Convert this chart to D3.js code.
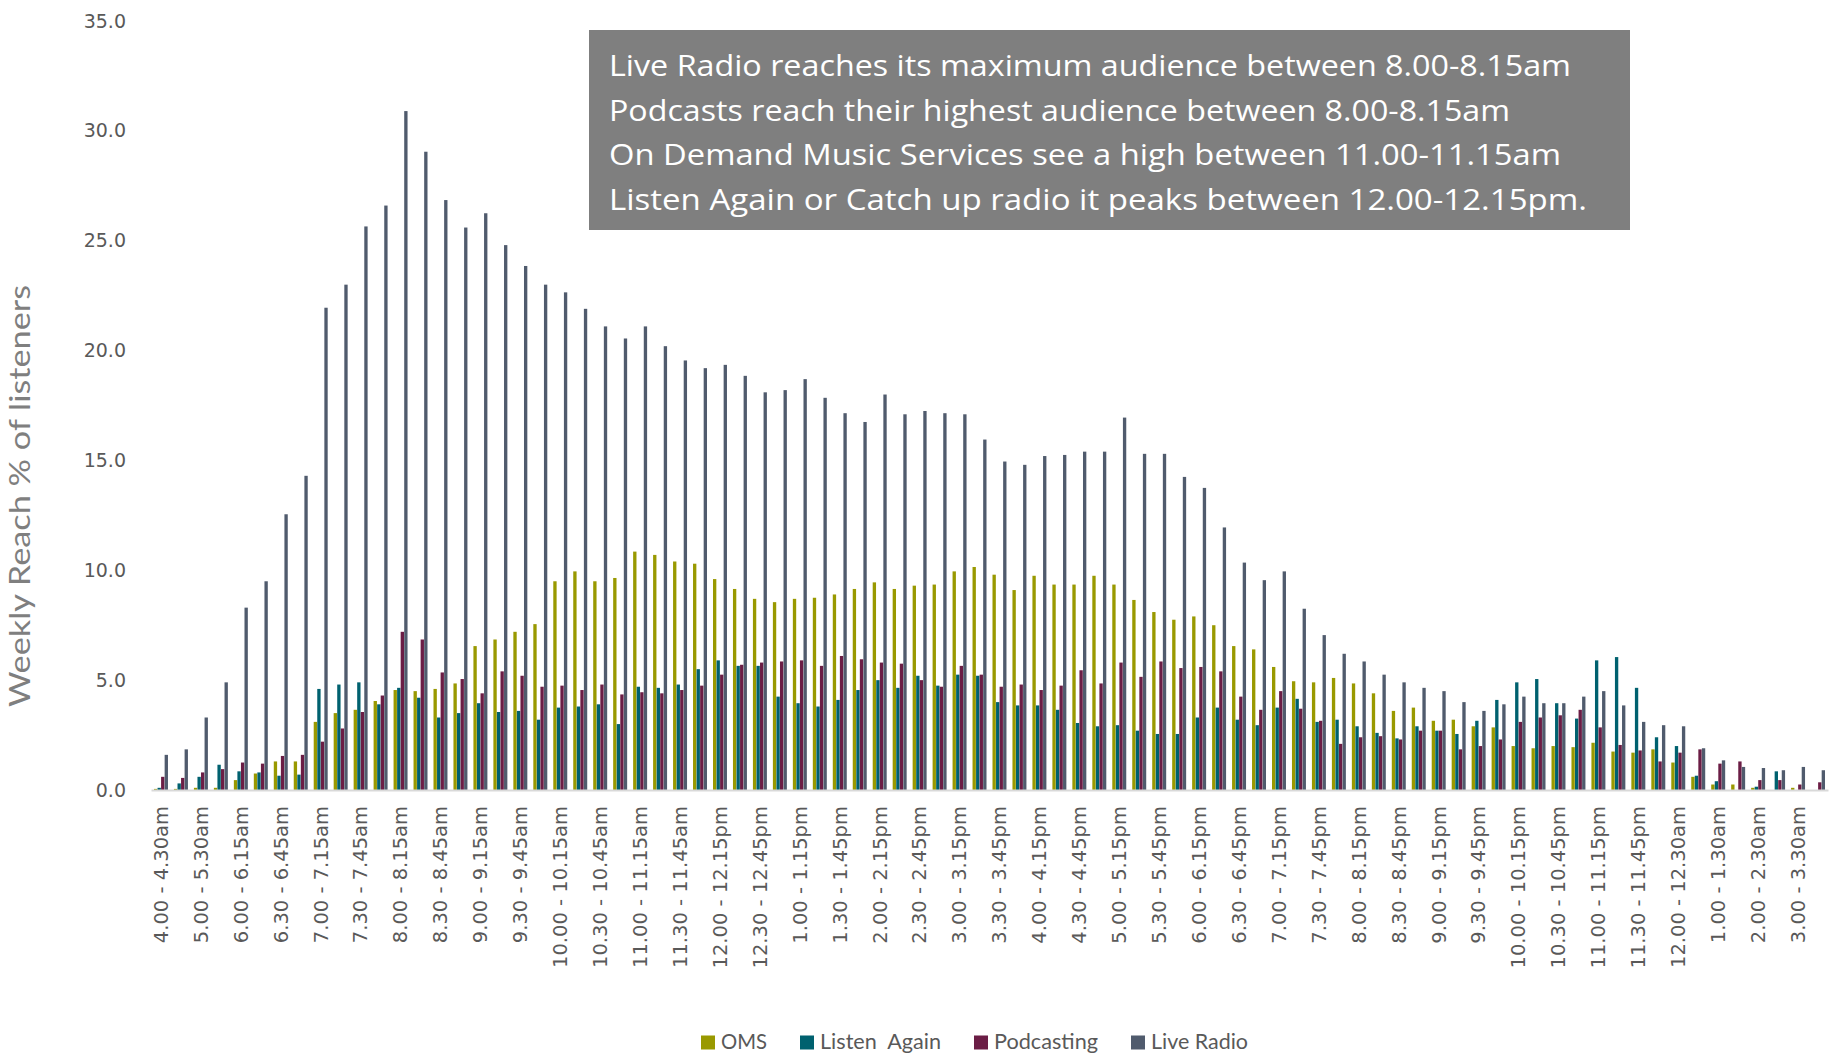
<!DOCTYPE html>
<html>
<head>
<meta charset="utf-8">
<script src="https://cdn.jsdelivr.net/npm/d3@7"></script>
<style>
  html, body { margin: 0; padding: 0; background: #ffffff; }
  svg { display: block; }
</style>
</head>
<body>
<svg id="chart" width="1837" height="1058"></svg>
<script>
const categories = [
  "4.00 - 4.30am","4.30 - 5.00am","5.00 - 5.30am","5.30 - 6.00am",
  "6.00 - 6.15am","6.15 - 6.30am","6.30 - 6.45am","6.45 - 7.00am",
  "7.00 - 7.15am","7.15 - 7.30am","7.30 - 7.45am","7.45 - 8.00am",
  "8.00 - 8.15am","8.15 - 8.30am","8.30 - 8.45am","8.45 - 9.00am",
  "9.00 - 9.15am","9.15 - 9.30am","9.30 - 9.45am","9.45 - 10.00am",
  "10.00 - 10.15am","10.15 - 10.30am","10.30 - 10.45am","10.45 - 11.00am",
  "11.00 - 11.15am","11.15 - 11.30am","11.30 - 11.45am","11.45 - 12.00pm",
  "12.00 - 12.15pm","12.15 - 12.30pm","12.30 - 12.45pm","12.45 - 1.00pm",
  "1.00 - 1.15pm","1.15 - 1.30pm","1.30 - 1.45pm","1.45 - 2.00pm",
  "2.00 - 2.15pm","2.15 - 2.30pm","2.30 - 2.45pm","2.45 - 3.00pm",
  "3.00 - 3.15pm","3.15 - 3.30pm","3.30 - 3.45pm","3.45 - 4.00pm",
  "4.00 - 4.15pm","4.15 - 4.30pm","4.30 - 4.45pm","4.45 - 5.00pm",
  "5.00 - 5.15pm","5.15 - 5.30pm","5.30 - 5.45pm","5.45 - 6.00pm",
  "6.00 - 6.15pm","6.15 - 6.30pm","6.30 - 6.45pm","6.45 - 7.00pm",
  "7.00 - 7.15pm","7.15 - 7.30pm","7.30 - 7.45pm","7.45 - 8.00pm",
  "8.00 - 8.15pm","8.15 - 8.30pm","8.30 - 8.45pm","8.45 - 9.00pm",
  "9.00 - 9.15pm","9.15 - 9.30pm","9.30 - 9.45pm","9.45 - 10.00pm",
  "10.00 - 10.15pm","10.15 - 10.30pm","10.30 - 10.45pm","10.45 - 11.00pm",
  "11.00 - 11.15pm","11.15 - 11.30pm","11.30 - 11.45pm","11.45 - 12.00am",
  "12.00 - 12.30am","12.30 - 1.00am","1.00 - 1.30am","1.30 - 2.00am",
  "2.00 - 2.30am","2.30 - 3.00am","3.00 - 3.30am","3.30 - 4.00am"
];

const tickLabels = categories.filter((d, i) => i % 2 === 0);

const seriesNames = ["OMS", "Listen  Again", "Podcasting", "Live Radio"];
const seriesColors = ["#999900", "#00616F", "#6B1D45", "#505B6D"];

const omsValues = [
  0.05,0.05,0.1,0.1, 0.45,0.75,1.3,1.3, 3.1,3.5,3.65,4.05, 4.55,4.5,4.6,4.85,
  6.55,6.85,7.2,7.55, 9.5,9.95,9.5,9.65, 10.85,10.7,10.4,10.3, 9.6,9.15,8.7,8.55,
  8.7,8.75,8.9,9.15, 9.45,9.15,9.3,9.35, 9.95,10.15,9.8,9.1, 9.75,9.35,9.35,9.75,
  9.35,8.65,8.1,7.75, 7.9,7.5,6.55,6.4, 5.6,4.95,4.9,5.1, 4.85,4.4,3.6,3.75,
  3.15,3.2,2.9,2.85, 2.0,1.9,2.0,1.95, 2.15,1.75,1.7,1.85, 1.25,0.6,0.25,0.25,
  0.1,0,0.1,0
];
const listenAgainValues = [
  0.1,0.3,0.6,1.15, 0.85,0.8,0.65,0.7, 4.6,4.8,4.9,3.9, 4.65,4.2,3.3,3.5,
  3.95,3.55,3.6,3.2, 3.75,3.8,3.9,3.0, 4.7,4.65,4.8,5.5, 5.9,5.65,5.65,4.25,
  3.95,3.8,4.1,4.55, 5.0,4.65,5.2,4.75, 5.25,5.2,4.0,3.85, 3.85,3.65,3.05,2.9,
  2.95,2.7,2.55,2.55, 3.3,3.75,3.2,2.95, 3.75,4.15,3.1,3.2, 2.9,2.6,2.35,2.9,
  2.7,2.55,3.15,4.1, 4.9,5.05,3.95,3.25, 5.9,6.05,4.65,2.4, 2.0,0.65,0.4,0,
  0.15,0.85,0,0
];
const podcastingValues = [
  0.6,0.55,0.8,0.95, 1.25,1.2,1.55,1.6, 2.2,2.8,3.55,4.3, 7.2,6.85,5.35,5.05,
  4.4,5.4,5.2,4.7, 4.75,4.55,4.8,4.35, 4.45,4.4,4.55,4.75, 5.25,5.7,5.8,5.85,
  5.9,5.65,6.1,5.95, 5.8,5.75,5.0,4.7, 5.65,5.25,4.7,4.8, 4.55,4.75,5.45,4.85,
  5.8,5.15,5.85,5.55, 5.6,5.4,4.25,3.65, 4.5,3.7,3.15,2.1, 2.4,2.45,2.3,2.7,
  2.7,1.85,2.0,2.3, 3.1,3.3,3.4,3.65, 2.85,2.05,1.8,1.3, 1.7,1.85,1.2,1.3,
  0.45,0.45,0.25,0.35
];
const liveRadioValues = [
  1.6,1.85,3.3,4.9, 8.3,9.5,12.55,14.3, 21.95,23.0,25.65,26.6, 30.9,29.05,26.85,25.6,
  26.25,24.8,23.85,23.0, 22.65,21.9,21.1,20.55, 21.1,20.2,19.55,19.2, 19.35,18.85,18.1,18.2,
  18.7,17.85,17.15,16.75, 18.0,17.1,17.25,17.15, 17.1,15.95,14.95,14.8, 15.2,15.25,15.4,15.4,
  16.95,15.3,15.3,14.25, 13.75,11.95,10.35,9.55, 9.95,8.25,7.05,6.2, 5.85,5.25,4.9,4.65,
  4.5,4.0,3.6,3.9, 4.25,3.95,3.95,4.25, 4.5,3.85,3.1,2.95, 2.9,1.9,1.35,1.05,
  1.0,0.9,1.05,0.9
];

const yTicks = [0, 5, 10, 15, 20, 25, 30, 35];
const yTitle = "Weekly Reach % of listeners";
const noteLines = [
  "Live Radio reaches its maximum audience between 8.00-8.15am",
  "Podcasts reach their highest audience between 8.00-8.15am",
  "On Demand Music Services see a high between 11.00-11.15am",
  "Listen Again or Catch up radio it peaks between 12.00-12.15pm."
];

const seriesValues = [omsValues, listenAgainValues, podcastingValues, liveRadioValues];

const svg = d3.select("#chart");
const W = 1837, H = 1058;
svg.append("rect").attr("width", W).attr("height", H).attr("fill", "#ffffff");

const plot = { left: 151, right: 1828, top: 21, bottom: 790 };

const x0 = d3.scaleBand()
  .domain(categories)
  .range([plot.left, plot.right])
  .paddingInner(0.3)
  .paddingOuter(0.15);

const x1 = d3.scaleBand()
  .domain(seriesNames)
  .range([0, x0.bandwidth()])
  .paddingInner(0.06);

const y = d3.scaleLinear().domain([0, 35]).range([plot.bottom, plot.top]);

const color = d3.scaleOrdinal().domain(seriesNames).range(seriesColors);

// bars
const rows = categories.map((c, i) => ({
  cat: c,
  vals: seriesNames.map((s, k) => ({ s, v: seriesValues[k][i] }))
}));

const groups = svg.append("g").selectAll("g")
  .data(rows).join("g")
  .attr("transform", d => `translate(${x0(d.cat)},0)`);

groups.selectAll("rect")
  .data(d => d.vals).join("rect")
  .attr("x", d => x1(d.s))
  .attr("width", x1.bandwidth())
  .attr("y", d => y(d.v))
  .attr("height", d => y(0) - y(d.v))
  .attr("fill", d => color(d.s));

// y axis
const yAxis = svg.append("g")
  .attr("transform", `translate(${plot.left},0)`)
  .call(d3.axisLeft(y).tickValues(yTicks).tickFormat(d3.format(".1f")).tickSize(0).tickPadding(25));
yAxis.select(".domain").remove();
yAxis.selectAll("text")
  .attr("fill", "#595959")
  .style("font-family", "'DejaVu Sans', sans-serif")
  .style("font-size", "19px");

// x axis
const xAxis = svg.append("g")
  .attr("transform", `translate(0,${plot.bottom})`)
  .call(d3.axisBottom(x0).tickValues(tickLabels).tickSize(0).tickSizeOuter(0));
xAxis.select(".domain").attr("stroke", "#d9d9d9").attr("stroke-width", 2);
xAxis.selectAll("text")
  .attr("transform", "rotate(-90)")
  .attr("x", -16)
  .attr("y", 0)
  .attr("dy", "0.35em")
  .attr("text-anchor", "end")
  .attr("fill", "#595959")
  .style("font-family", "'DejaVu Sans', sans-serif")
  .style("font-size", "19.5px");

// y title
svg.append("text")
  .attr("transform", `translate(30,${(284 + 708) / 2}) rotate(-90)`)
  .attr("text-anchor", "middle")
  .attr("fill", "#7f7f7f")
  .style("font-family", "Lato, 'Open Sans', sans-serif")
  .style("font-size", "29px")
  .attr("textLength", 422)
  .attr("lengthAdjust", "spacingAndGlyphs")
  .text(yTitle);

// annotation box
const note = svg.append("g");
note.append("rect")
  .attr("x", 589).attr("y", 30)
  .attr("width", 1630 - 589).attr("height", 200)
  .attr("fill", "#7f7f7f");
const noteWidths = [962, 901, 952, 978];
note.selectAll("text")
  .data(noteLines).join("text")
  .attr("x", 609)
  .attr("y", (d, i) => 76 + i * 44.7)
  .attr("fill", "#ffffff")
  .style("font-family", "'Open Sans', sans-serif")
  .style("font-size", "29px")
  .attr("textLength", (d, i) => noteWidths[i])
  .attr("lengthAdjust", "spacingAndGlyphs")
  .text(d => d);

// legend
const legend = svg.append("g");
const legendWidths = [46, 121, 104, 97];
let lx = 701;
seriesNames.forEach((s, k) => {
  const item = legend.append("g").attr("transform", `translate(${lx},0)`);
  item.append("rect")
    .attr("x", 0).attr("y", 1035.5)
    .attr("width", 14).attr("height", 14)
    .attr("fill", color(s));
  item.append("text")
    .attr("x", 20).attr("y", 1049)
    .attr("fill", "#595959")
    .style("font-family", "Lato, 'Open Sans', sans-serif")
    .style("font-size", "21px")
    .style("white-space", "pre")
    .attr("textLength", legendWidths[k])
    .attr("lengthAdjust", "spacingAndGlyphs")
    .text(s);
  lx += 20 + legendWidths[k] + 33;
});
</script>
</body>
</html>
